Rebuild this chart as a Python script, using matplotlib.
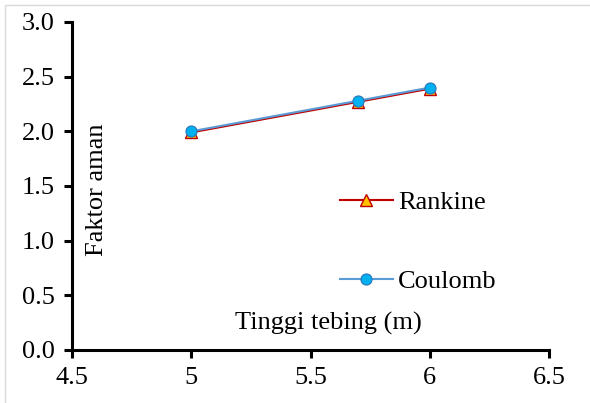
import numpy as np
import matplotlib.pyplot as plt
from matplotlib.patches import Rectangle

plt.rcParams['font.family'] = ['Liberation Serif', 'DejaVu Serif']

# data
tinggi = [5, 5.7, 6]
rankine = [1.99, 2.27, 2.39]
coulomb = [2.00, 2.28, 2.40]
x_ticks = [4.5, 5, 5.5, 6, 6.5]
x_tick_labels = ['4.5', '5', '5.5', '6', '6.5']
y_ticks = [0.0, 0.5, 1.0, 1.5, 2.0, 2.5, 3.0]

W, H = 590, 403
FS = 19
fig = plt.figure(figsize=(W / 100, H / 100), dpi=100)
# axes box in pixels: x 72..549, y 22..350
ax = fig.add_axes([72 / W, 1 - 350 / H, 477 / W, 328 / H])

ax.plot(tinggi, rankine, color='#C00000', linewidth=1.5, marker='^', markersize=9,
        markerfacecolor='#FFC000', markeredgecolor='#C00000', markeredgewidth=1.0,
        label='Rankine', zorder=3)
ax.plot(tinggi, coulomb, color='#5B9BD5', linewidth=1.5, marker='o', markersize=8,
        markerfacecolor='#00B0F0', markeredgecolor='#2E75B6', markeredgewidth=0.8,
        label='Coulomb', zorder=4)

ax.set_xlim(4.5, 6.5)
ax.set_ylim(0, 3.0)
ax.set_xticks(x_ticks)
ax.set_xticklabels(x_tick_labels)
ax.set_yticks(y_ticks)
ax.set_yticklabels([f'{v:.1f}' for v in y_ticks])

for side in ['top', 'right']:
    ax.spines[side].set_visible(False)
for side in ['left', 'bottom']:
    ax.spines[side].set_linewidth(2.2)
    ax.spines[side].set_capstyle('projecting')
ax.tick_params(axis='both', direction='out', length=5.5, width=2.2, labelsize=FS, pad=7)

ax.text(0.537, 0.061, 'Tinggi tebing (m)', transform=ax.transAxes,
        ha='center', va='baseline', fontsize=FS)
ax.text(0.052, 0.488, 'Faktor aman', rotation=90, transform=ax.transAxes,
        ha='center', va='center', fontsize=FS)

ax.legend(loc='center left', bbox_to_anchor=(0.562, 0.329),
          frameon=False, fontsize=FS, handlelength=2.0, handletextpad=0.2,
          labelspacing=2.1, borderpad=0, borderaxespad=0)

# thin grey frame around the chart area
fig.patches.append(Rectangle((4.5 / W, -0.01), 1.1, 1 - 4.5 / H + 0.01, transform=fig.transFigure,
                             fill=False, edgecolor='#D9D9D9', linewidth=1.0))

fig.savefig('out.png', dpi=100)
